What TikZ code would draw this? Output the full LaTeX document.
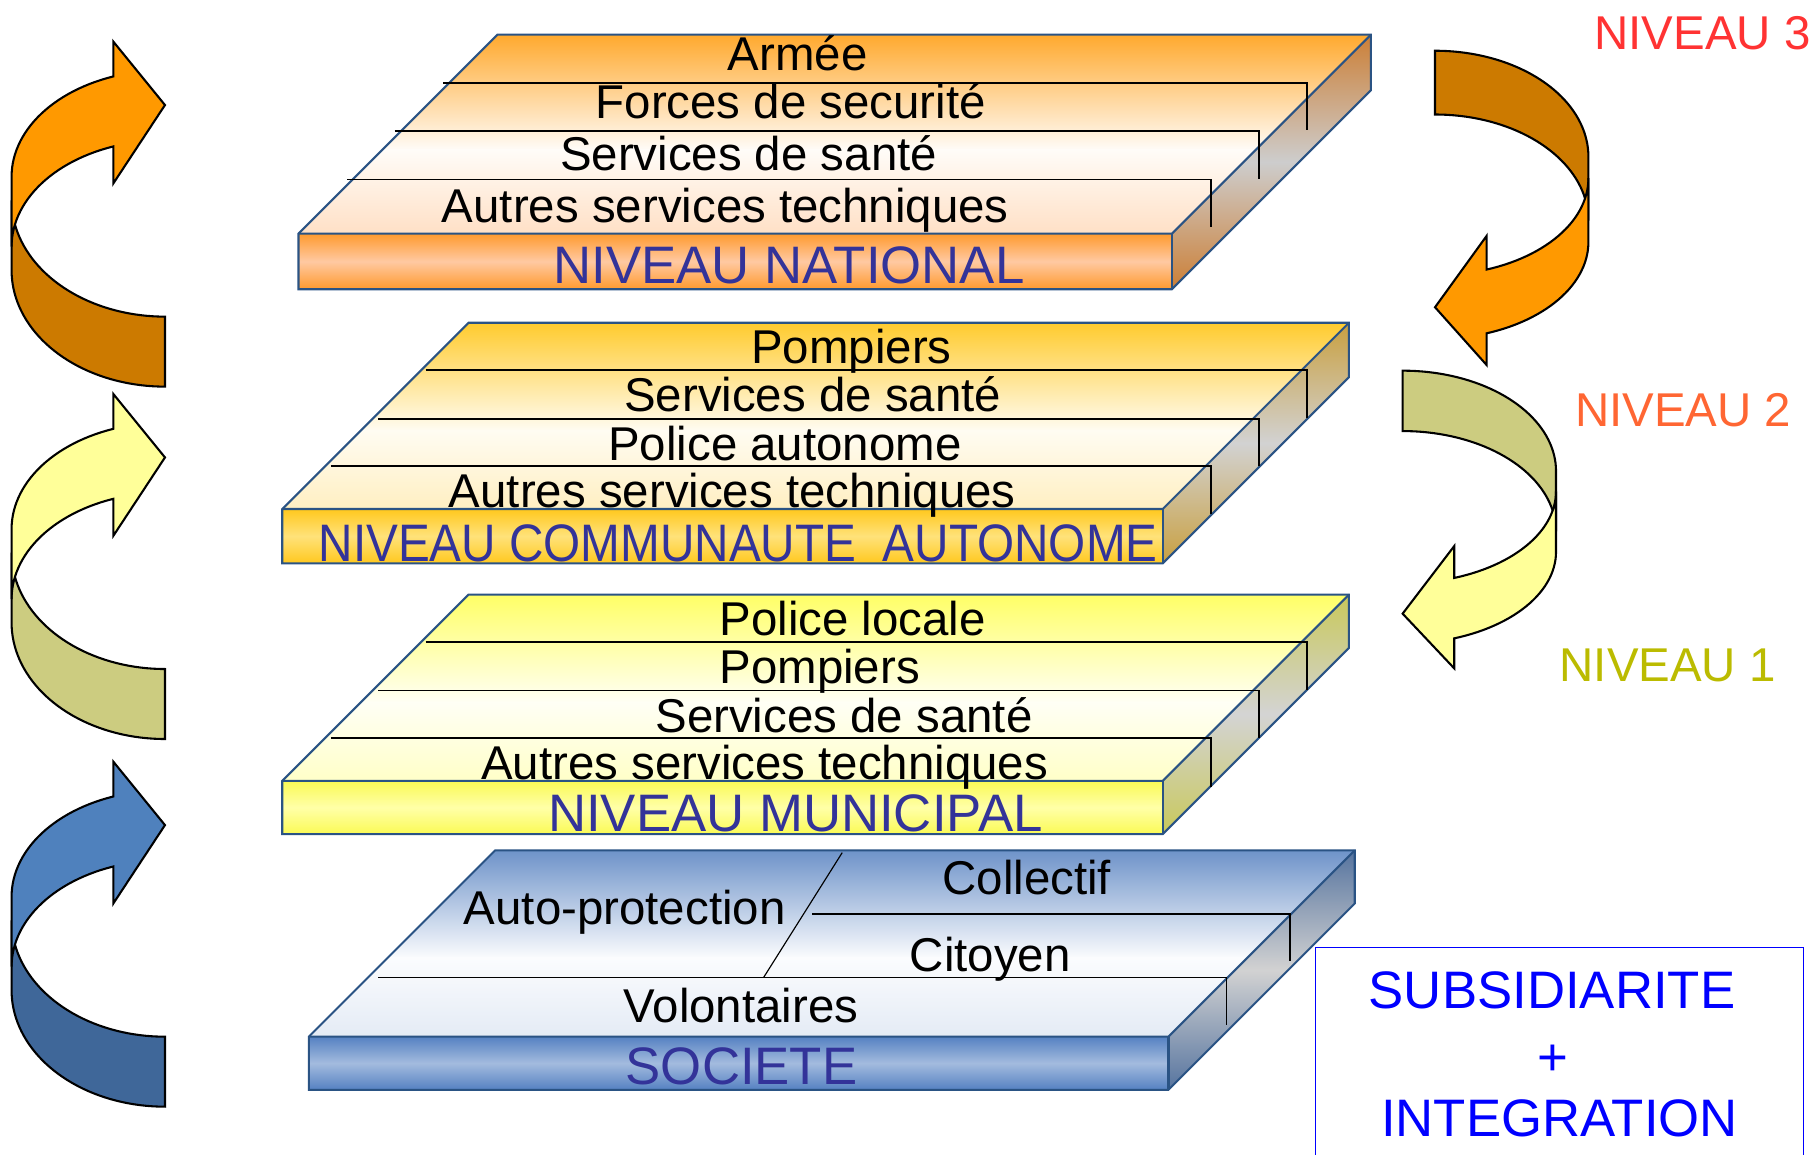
\documentclass[tikz,border=0pt]{standalone}
\usepackage{fontspec}
\setmainfont{Liberation Sans}
% slab colours
\definecolor{natA}{HTML}{FFA92E}\definecolor{natB}{HTML}{FFFCF8}\definecolor{natC}{HTML}{FFE0C6}
\definecolor{natF1}{HTML}{FF9A2E}\definecolor{natF2}{HTML}{FFC9A2}\definecolor{natS1}{HTML}{CC7F36}\definecolor{natS2}{HTML}{CDCDCD}
\definecolor{comA}{HTML}{FFCB2E}\definecolor{comB}{HTML}{FFFCF2}\definecolor{comC}{HTML}{FFEFC2}
\definecolor{comF1}{HTML}{FFC81E}\definecolor{comF2}{HTML}{FFE27A}\definecolor{comS1}{HTML}{C9A040}\definecolor{comS2}{HTML}{D2D2D2}
\definecolor{munA}{HTML}{FFFF66}\definecolor{munB}{HTML}{FFFFF5}\definecolor{munC}{HTML}{FFFFC8}
\definecolor{munF1}{HTML}{FAFA55}\definecolor{munF2}{HTML}{FFFFA8}\definecolor{munS1}{HTML}{C8C85A}\definecolor{munS2}{HTML}{D4D4D4}
\definecolor{socA}{HTML}{6E93C9}\definecolor{socB}{HTML}{FBFCFE}\definecolor{socC}{HTML}{E4EBF5}
\definecolor{socF1}{HTML}{5581C2}\definecolor{socF2}{HTML}{A3BBDE}\definecolor{socS1}{HTML}{56749F}\definecolor{socS2}{HTML}{D2D2D2}
\definecolor{slabedge}{HTML}{2A5384}
\definecolor{titleblue}{HTML}{333399}
% arrow colours
\definecolor{orL}{HTML}{FF9900}\definecolor{orD}{HTML}{CC7A00}
\definecolor{yeL}{HTML}{FFFF99}\definecolor{yeD}{HTML}{CCCC80}
\definecolor{blL}{HTML}{4F81BD}\definecolor{blD}{HTML}{3F6799}
% label colours
\definecolor{niv3}{HTML}{FF3333}\definecolor{niv2}{HTML}{FF6633}\definecolor{niv1}{HTML}{BBBB00}
\definecolor{boxblue}{HTML}{0000FF}

\newcommand\drawslab[6]{%
  \begin{scope}
    \clip (#1,#3) -- (#2,#3) -- ({#2+#5},{#3-#5}) -- ({#1+#5},{#3-#5}) -- cycle;
    \shade[top color=#6A, bottom color=#6B] (#1,{#3-#5}) rectangle ({#2+#5},{#3-0.42*#5});
    \shade[top color=#6B, bottom color=#6C] (#1,{#3-0.42*#5-0.5}) rectangle ({#2+#5},#3);
  \end{scope}
  \shade[top color=#6F1, bottom color=#6F1, middle color=#6F2] (#1,#3) rectangle (#2,#4);
  \shade[top color=#6S1, bottom color=#6S1, middle color=#6S2] (#2,#3) -- ({#2+#5},{#3-#5}) -- ({#2+#5},{#4-#5}) -- (#2,#4) -- cycle;
  \draw[slabline] (#1,#3) -- ({#1+#5},{#3-#5}) -- ({#2+#5},{#3-#5}) -- ({#2+#5},{#4-#5}) -- (#2,#4) -- (#1,#4) -- cycle;
  \draw[slabline] (#1,#3) -- (#2,#3) -- ({#2+#5},{#3-#5});
  \draw[slabline] (#2,#3) -- (#2,#4);
}

\newcommand\curvarrow[2]{%
  \filldraw[arrowline, fill=#2]
    plot[domain=180:90, samples=40] ({142.6+132.6*cos(\x)},{173.1+100.6*sin(\x)})
    -- (142.6,334.2)
    -- plot[domain=90:180, samples=40] ({142.6+132.6*cos(\x)},{233.6+100.6*sin(\x)})
    -- cycle;
  \filldraw[arrowline, fill=#1]
    plot[domain=180:250.35, samples=30] ({142.6+132.6*cos(\x)},{152.7+92*sin(\x)})
    -- (98,36) -- (142.6,90.8) -- (98,158.5)
    -- plot[domain=250.35:180, samples=30] ({142.6+132.6*cos(\x)},{213.2+92*sin(\x)})
    -- cycle;
}

\begin{document}
\begin{tikzpicture}[x=1pt,y=-1pt,
  lbl/.style={anchor=base, inner sep=0pt, font=\fontsize{41}{41}\selectfont},
  ttl/.style={anchor=base, inner sep=0pt, text=titleblue, font=\fontsize{45.6}{46}\selectfont},
  niv/.style={anchor=base, inner sep=0pt, font=\fontsize{41}{41}\selectfont},
  boxtxt/.style={anchor=base, inner sep=0pt, text=boxblue, font=\fontsize{45.6}{46}\selectfont},
  slabline/.style={draw=slabedge, line width=1.8pt, line join=miter},
  sepline/.style={draw=black, line width=1.4pt},
  arrowline/.style={draw=black, line width=1.8pt, line join=miter}]

\useasboundingbox (0,0) rectangle (1568,998);

% ---------- left curved arrows ----------
\curvarrow{orL}{orD}
\begin{scope}[shift={(0,304.6)}]\curvarrow{yeL}{yeD}\end{scope}
\begin{scope}[shift={(0,622.4)}]\curvarrow{blL}{blD}\end{scope}

% ---------- right curved arrows ----------
\begin{scope}[shift={(1383,348.3)}, xscale=-1, yscale=-0.911]\curvarrow{orL}{orD}\end{scope}
\begin{scope}[shift={(1355,608.8)}, xscale=-1, yscale=-0.863]\curvarrow{yeL}{yeD}\end{scope}

% ---------- NIVEAU NATIONAL ----------
\drawslab{258}{1013}{202}{250}{172}{nat}
\draw[sepline] (383,72) -- (1130,72) -- (1130,112);
\draw[sepline] (341,113) -- (1088,113) -- (1088,155);
\draw[sepline] (300,155) -- (1047,155) -- (1047,196);
\node[lbl] (armee) at (689.5,61) {Armée};
\node[lbl] (forces) at (683.5,102) {Forces de securité};
\node[lbl] (sante3) at (647,147) {Services de santé};
\node[lbl] (autres3) at (627,192) {Autres services techniques};
\node[ttl] (national) at (682,245) {NIVEAU NATIONAL};

% ---------- NIVEAU COMMUNAUTE AUTONOME ----------
\drawslab{244}{1005}{440}{487}{161}{com}
\draw[sepline] (368,320) -- (1130,320) -- (1130,361);
\draw[sepline] (327,362) -- (1088,362) -- (1088,403);
\draw[sepline] (286,403) -- (1047,403) -- (1047,444);
\node[lbl] (pompiers2) at (736,314) {Pompiers};
\node[lbl] (sante2) at (702.5,356) {Services de santé};
\node[lbl] (police2) at (678.5,398) {Police autonome};
\node[lbl] (autres2) at (633,439) {Autres services techniques};
\node[ttl] (communaute) at (638,485) {\scalebox{0.904}[1]{NIVEAU COMMUNAUTE\ \ AUTONOME}};

% ---------- NIVEAU MUNICIPAL ----------
\drawslab{244}{1005}{675}{721}{161}{mun}
\draw[sepline] (368,555) -- (1130,555) -- (1130,596);
\draw[sepline] (327,597) -- (1088,597) -- (1088,638);
\draw[sepline] (286,638) -- (1047,638) -- (1047,680);
\node[lbl] (police1) at (737,549) {Police locale};
\node[lbl] (pompiers1) at (708.5,591) {Pompiers};
\node[lbl] (sante1) at (729.5,633) {Services de santé};
\node[lbl] (autres1) at (661,674) {Autres services techniques};
\node[ttl] (municipal) at (687.5,719) {NIVEAU MUNICIPAL};

% ---------- SOCIETE ----------
\drawslab{267}{1010}{896}{942}{161}{soc}
\draw[sepline] (702,790) -- (1115,790) -- (1115,831);
\draw[sepline] (327,845) -- (1060,845) -- (1060,886);
\draw[draw=black, line width=1pt] (728,737) -- (660,845);
\node[lbl] (collectif) at (887.5,773) {Collectif};
\node[lbl] (autoprot) at (540,799) {Auto-protection};
\node[lbl] (citoyen) at (856,840) {Citoyen};
\node[lbl] (volont) at (640.5,884) {Volontaires};
\node[ttl] (societe) at (641,937) {SOCIETE};

% ---------- level labels ----------
\node[niv, text=niv3] (n3) at (1471.5,43) {NIVEAU 3};
\node[niv, text=niv2] (n2) at (1455,369) {NIVEAU 2};
\node[niv, text=niv1] (n1) at (1441.5,589) {NIVEAU 1};

% ---------- SUBSIDIARITE box ----------
\draw[draw=boxblue, line width=1.5pt] (1137,998) -- (1137,819) -- (1559,819) -- (1559,998);
\node[boxtxt] (subsid) at (1341.5,872) {SUBSIDIARITE};
\node[boxtxt] (plus) at (1342,930) {+};
\node[boxtxt] (integ) at (1348,982) {INTEGRATION};

\end{tikzpicture}
\end{document}
